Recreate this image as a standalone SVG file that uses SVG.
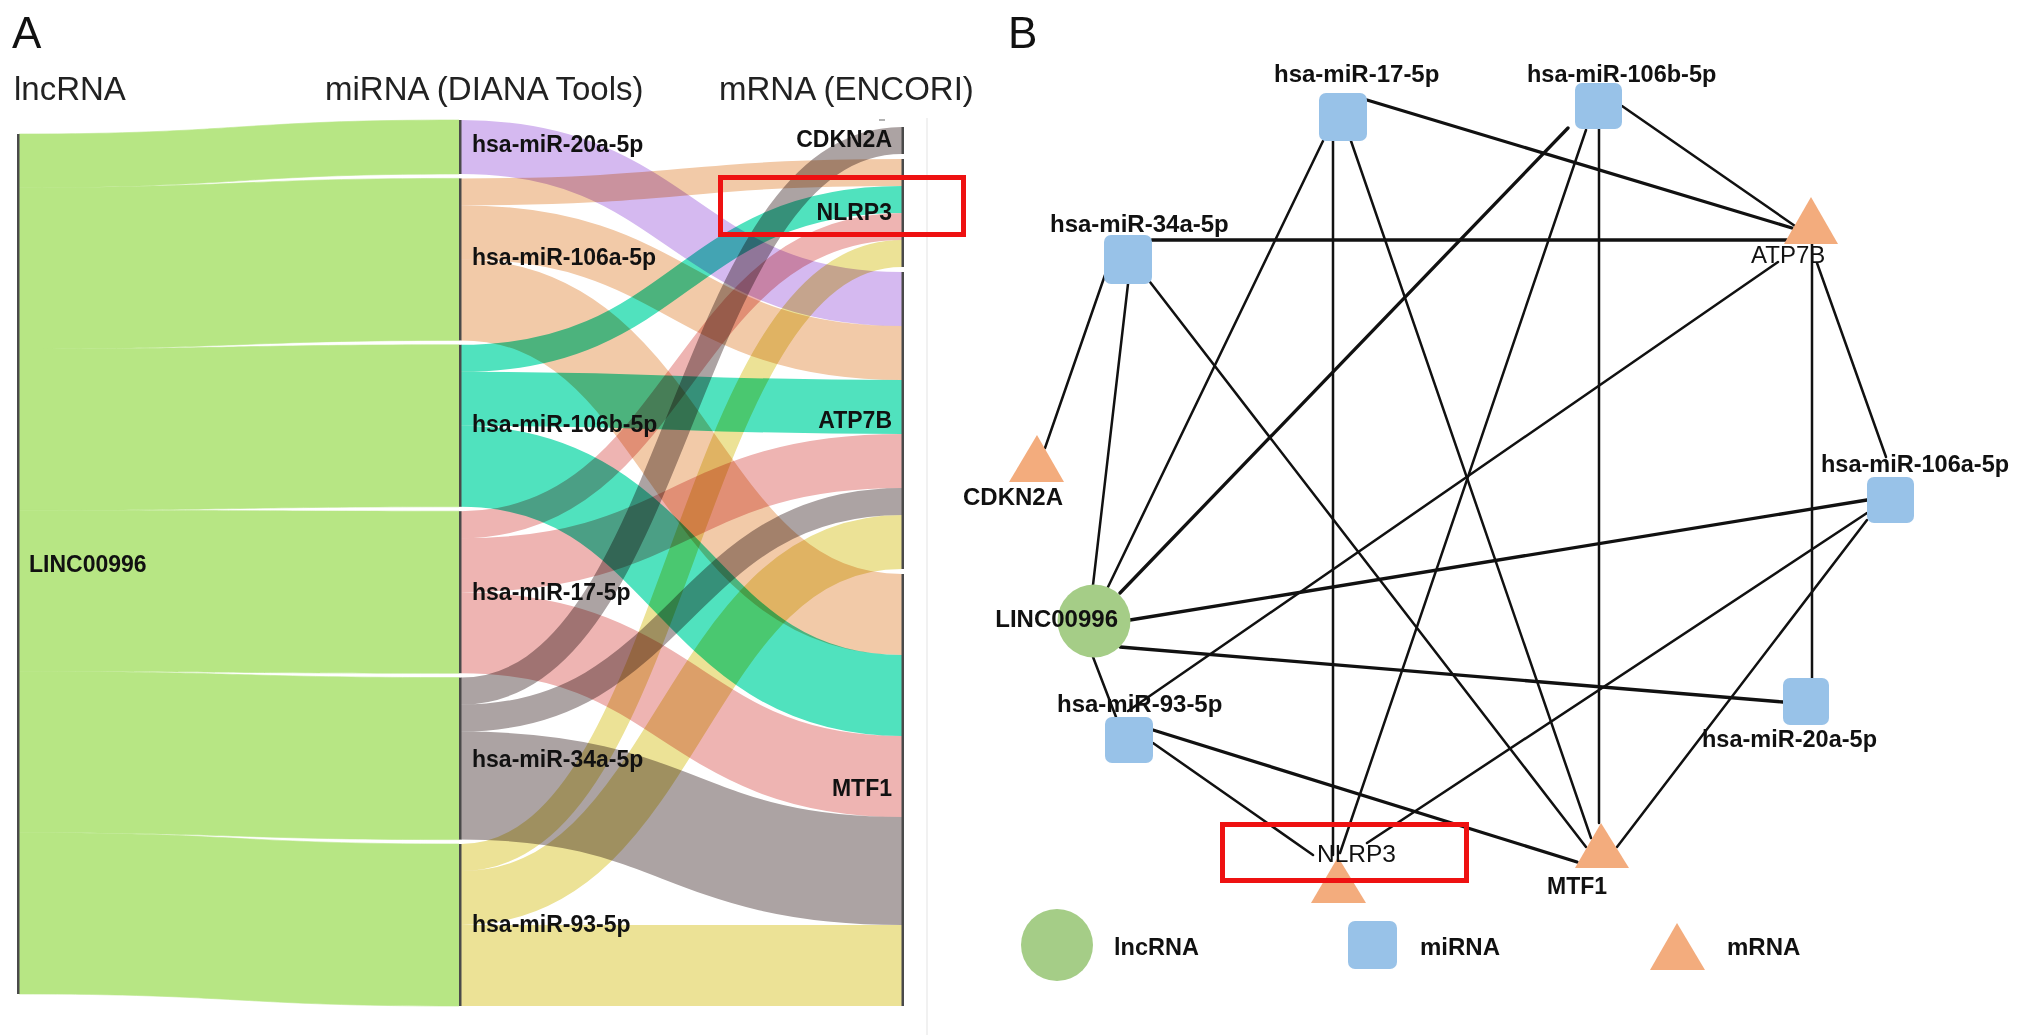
<svg xmlns="http://www.w3.org/2000/svg" width="2032" height="1035" viewBox="0 0 2032 1035">
<style>
text{font-family:"Liberation Sans",Arial,sans-serif;fill:#111}
.hdr{font-size:33px;fill:#222}
.pl{font-size:44px;fill:#111}
.sl{font-size:23px;font-weight:bold}
.flow{fill:none;mix-blend-mode:multiply}
.green{fill:#b7e684;stroke:#b7e684;stroke-width:0.6}
.nodebar{fill:#4a4a4a}
.edge{stroke:#111;stroke-width:2.5;fill:none;stroke-linecap:round}
.thick{stroke-width:3.3}
.mi{fill:#98c2e8}
.mr{fill:#f3ac7d}
.lnc{fill:#a5cd87}
.nl{font-size:24.5px}
.b{font-weight:bold;font-size:24px}
.bm{font-weight:bold;font-size:23.5px}
.box{fill:none;stroke:#ee1111;stroke-width:5}
</style>
<rect x="0" y="0" width="2032" height="1035" fill="#ffffff"/>

<!-- Panel A headers -->
<text class="pl" x="12" y="48">A</text>
<text class="hdr" x="14" y="100">lncRNA</text>
<text class="hdr" x="325" y="100">miRNA (DIANA Tools)</text>
<text class="hdr" x="719" y="100">mRNA (ENCORI)</text>
<line x1="927" y1="118" x2="927" y2="1035" stroke="#ececec" stroke-width="1.5"/>

<!-- Sankey links -->
<g id="sankey-links">
  <g id="lnc-links">
    <path class="green" d="M19,134 C239,134 239,120 459,120 L459,174 C239,174 239,187.75 19,187.75 Z"/>
    <path class="green" d="M19,187.75 C239,187.75 239,178.4 459,178.4 L459,340.4 C239,340.4 239,349 19,349 Z"/>
    <path class="green" d="M19,349 C239,349 239,344.8 459,344.8 L459,506.8 C239,506.8 239,510.25 19,510.25 Z"/>
    <path class="green" d="M19,510.25 C239,510.25 239,511.2 459,511.2 L459,673.2 C239,673.2 239,671.5 19,671.5 Z"/>
    <path class="green" d="M19,671.5 C239,671.5 239,677.6 459,677.6 L459,839.6 C239,839.6 239,832.75 19,832.75 Z"/>
    <path class="green" d="M19,832.75 C239,832.75 239,844 459,844 L459,1006 C239,1006 239,994 19,994 Z"/>
  </g>
  <g id="mirna-links">
    <path class="flow" stroke="#d5b9f0" stroke-width="54" d="M461,147 C681.5,147 681.5,299 902,299"/>
    <path class="flow" stroke="#f2caa8" stroke-width="27" d="M461,191.9 C681.5,191.9 681.5,172.5 902,172.5"/>
    <path class="flow" stroke="#f2caa8" stroke-width="54" d="M461,232.4 C681.5,232.4 681.5,353 902,353"/>
    <path class="flow" stroke="#f2caa8" stroke-width="81" d="M461,299.9 C681.5,299.9 681.5,614.5 902,614.5"/>
    <path class="flow" stroke="#50e2be" stroke-width="27" d="M461,358.3 C681.5,358.3 681.5,199.5 902,199.5"/>
    <path class="flow" stroke="#50e2be" stroke-width="54" d="M461,398.8 C681.5,398.8 681.5,407 902,407"/>
    <path class="flow" stroke="#50e2be" stroke-width="81" d="M461,466.3 C681.5,466.3 681.5,695.5 902,695.5"/>
    <path class="flow" stroke="#eeb4b2" stroke-width="27" d="M461,524.7 C681.5,524.7 681.5,226.5 902,226.5"/>
    <path class="flow" stroke="#eeb4b2" stroke-width="54" d="M461,565.2 C681.5,565.2 681.5,461 902,461"/>
    <path class="flow" stroke="#eeb4b2" stroke-width="81" d="M461,632.7 C681.5,632.7 681.5,776.5 902,776.5"/>
    <path class="flow" stroke="#aca3a3" stroke-width="27" d="M461,691.1 C681.5,691.1 681.5,140.5 902,140.5"/>
    <path class="flow" stroke="#aca3a3" stroke-width="27" d="M461,718.1 C681.5,718.1 681.5,501.5 902,501.5"/>
    <path class="flow" stroke="#aca3a3" stroke-width="108" d="M461,785.6 C681.5,785.6 681.5,871 902,871"/>
    <path class="flow" stroke="#ece296" stroke-width="27" d="M461,857.5 C681.5,857.5 681.5,253.5 902,253.5"/>
    <path class="flow" stroke="#ece296" stroke-width="54" d="M461,898 C681.5,898 681.5,542 902,542"/>
    <path class="flow" stroke="#ece296" stroke-width="81" d="M461,965.5 C681.5,965.5 681.5,965.5 902,965.5"/>
  </g>
</g>

<!-- Sankey nodes -->
<g id="s-LINC00996"><rect class="nodebar" x="17" y="134" width="2.5" height="860"/><text class="sl" x="29" y="572">LINC00996</text></g>
<g id="s-miR-20a"><rect class="nodebar" x="459" y="120" width="2.5" height="54"/><text class="sl" x="472" y="152">hsa-miR-20a-5p</text></g>
<g id="s-miR-106a"><rect class="nodebar" x="459" y="178.4" width="2.5" height="162"/><text class="sl" x="472" y="265">hsa-miR-106a-5p</text></g>
<g id="s-miR-106b"><rect class="nodebar" x="459" y="344.8" width="2.5" height="162"/><text class="sl" x="472" y="432">hsa-miR-106b-5p</text></g>
<g id="s-miR-17"><rect class="nodebar" x="459" y="511.2" width="2.5" height="162"/><text class="sl" x="472" y="600">hsa-miR-17-5p</text></g>
<g id="s-miR-34a"><rect class="nodebar" x="459" y="677.6" width="2.5" height="162"/><text class="sl" x="472" y="767">hsa-miR-34a-5p</text></g>
<g id="s-miR-93"><rect class="nodebar" x="459" y="844" width="2.5" height="162"/><text class="sl" x="472" y="932">hsa-miR-93-5p</text></g>
<g id="s-CDKN2A"><rect class="nodebar" x="901.5" y="127" width="2.5" height="27"/><text class="sl" x="892" y="147" text-anchor="end">CDKN2A</text><line x1="879" y1="120" x2="885" y2="120" stroke="#999" stroke-width="1.5"/></g>
<g id="s-NLRP3"><rect class="nodebar" x="901.5" y="159" width="2.5" height="108"/><text class="sl" x="892" y="220" text-anchor="end">NLRP3</text></g>
<g id="s-ATP7B"><rect class="nodebar" x="901.5" y="272" width="2.5" height="297"/><text class="sl" x="892" y="428" text-anchor="end">ATP7B</text></g>
<g id="s-MTF1"><rect class="nodebar" x="901.5" y="574" width="2.5" height="432"/><text class="sl" x="892" y="796" text-anchor="end">MTF1</text></g>
<rect id="highlight-A" class="box" x="720.5" y="177.5" width="243" height="57"/>

<!-- Panel B -->
<text class="pl" x="1008" y="48">B</text>
<g id="network-edges">
  <line class="edge thick" x1="1367" y1="100" x2="1792" y2="228"/>
  <line class="edge" x1="1333" y1="141" x2="1333" y2="855"/>
  <line class="edge" x1="1351" y1="141" x2="1591" y2="838"/>
  <line class="edge" x1="1323" y1="141" x2="1108" y2="587"/>
  <line class="edge" x1="1622" y1="106" x2="1795" y2="226"/>
  <line class="edge thick" x1="1568" y1="128" x2="1120" y2="593"/>
  <line class="edge" x1="1586" y1="130" x2="1340" y2="853"/>
  <line class="edge" x1="1599" y1="129" x2="1599" y2="823"/>
  <line class="edge thick" x1="1152" y1="240" x2="1787" y2="240"/>
  <line class="edge" x1="1105" y1="275" x2="1045" y2="448"/>
  <line class="edge" x1="1128" y1="284" x2="1093" y2="585"/>
  <line class="edge" x1="1150" y1="282" x2="1586" y2="847"/>
  <line class="edge" x1="1778" y1="262" x2="1128" y2="711"/>
  <line class="edge" x1="1812" y1="243" x2="1812" y2="678"/>
  <line class="edge" x1="1817" y1="263" x2="1886" y2="457"/>
  <line class="edge thick" x1="1130" y1="620" x2="1867" y2="500"/>
  <line class="edge thick" x1="1120" y1="647" x2="1783" y2="702"/>
  <line class="edge" x1="1867" y1="513" x2="1367" y2="843"/>
  <line class="edge" x1="1867" y1="520" x2="1617" y2="847"/>
  <line class="edge" x1="1153" y1="743" x2="1313" y2="855"/>
  <line class="edge thick" x1="1153" y1="730" x2="1577" y2="862"/>
  <line class="edge" x1="1093" y1="657" x2="1116" y2="717"/>
</g>
<g id="n-miR-17"><rect class="mi" x="1319" y="93" width="48" height="48" rx="7"/><text class="b" x="1274" y="82">hsa-miR-17-5p</text></g>
<g id="n-miR-106b"><rect class="mi" x="1575" y="83" width="47" height="46" rx="7"/><text class="bm" x="1527" y="82">hsa-miR-106b-5p</text></g>
<g id="n-miR-34a"><rect class="mi" x="1104" y="235" width="48" height="49" rx="7"/><text class="b" x="1050" y="232">hsa-miR-34a-5p</text></g>
<g id="n-ATP7B"><polygon class="mr" points="1811,197 1838,244 1784,244"/><text class="nl" x="1751" y="263" style="font-size:24px">ATP7B</text></g>
<g id="n-CDKN2A"><polygon class="mr" points="1037,435 1064,482 1009,482"/><text class="b" x="963" y="505">CDKN2A</text></g>
<g id="n-miR-106a"><rect class="mi" x="1867" y="477" width="47" height="46" rx="7"/><text class="bm" x="1821" y="472">hsa-miR-106a-5p</text></g>
<g id="n-LINC00996"><circle class="lnc" cx="1094" cy="621" r="36.5"/><text class="b" x="1118" y="627" text-anchor="end">LINC00996</text></g>
<g id="n-miR-93"><rect class="mi" x="1105" y="717" width="48" height="46" rx="7"/><text class="b" x="1057" y="712">hsa-miR-93-5p</text></g>
<g id="n-miR-20a"><rect class="mi" x="1783" y="678" width="46" height="47" rx="7"/><text class="bm" x="1702" y="747">hsa-miR-20a-5p</text></g>
<g id="n-NLRP3"><polygon class="mr" points="1338,857 1366,903 1311,903"/><text class="nl" x="1317" y="862">NLRP3</text></g>
<g id="n-MTF1"><polygon class="mr" points="1601,823 1629,868 1575,868"/><text class="b" x="1547" y="894" style="font-size:23px">MTF1</text></g>
<rect id="highlight-B" class="box" x="1222.5" y="824.5" width="244" height="56"/>

<g id="legend">
  <g id="legend-lncRNA"><circle class="lnc" cx="1057" cy="945" r="36"/><text class="b" x="1114" y="955" style="font-size:23.5px">lncRNA</text></g>
  <g id="legend-miRNA"><rect class="mi" x="1348" y="921" width="49" height="48" rx="7"/><text class="b" x="1420" y="955">miRNA</text></g>
  <g id="legend-mRNA"><polygon class="mr" points="1677,923 1705,970 1650,970"/><text class="b" x="1727" y="955">mRNA</text></g>
</g>
</svg>
